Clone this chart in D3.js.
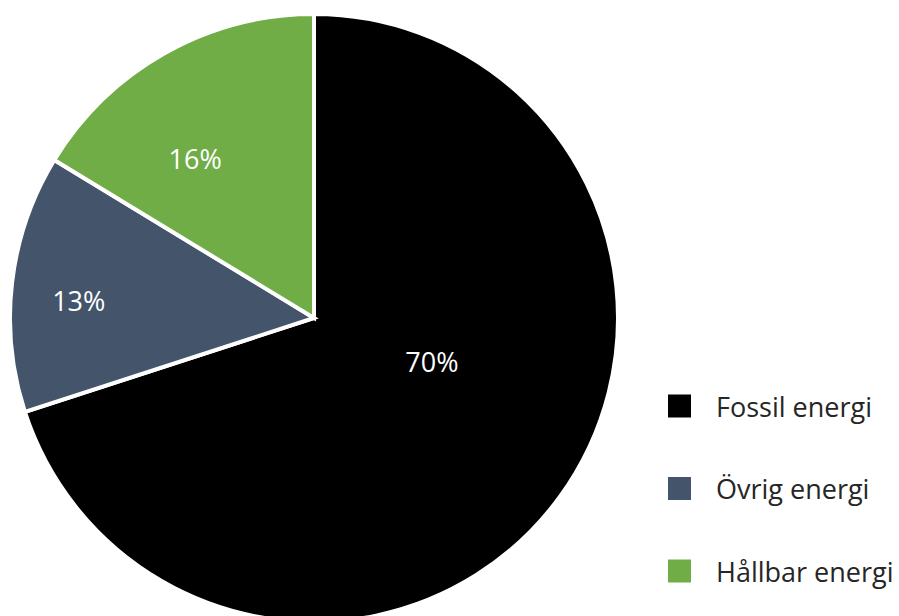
<!DOCTYPE html>
<html><head><meta charset="utf-8">
<script src="https://cdn.jsdelivr.net/npm/d3@7"></script>
<style>html,body{margin:0;padding:0;background:#fff;}svg{display:block;}</style>
</head><body>
<svg id="chart" width="899" height="616"></svg>
<script>
const categories = ["Fossil energi", "Övrig energi", "Hållbar energi"];
const values = [70.0, 13.7, 16.3];
const labels = ["70%", "13%", "16%"];
const colors = ["#000000", "#44546A", "#70AD47"];
// label placement tweaks (angle offset in degrees, radius fraction)
const labelAngleShift = [-15.6, -2.3, -7.3];
const labelRadiusFrac = [0.414, 0.776, 0.655];

const svg = d3.select("#chart");
const cx = 314, cy = 318, R = 304;
const font = "'Open Sans', sans-serif";

const pie = d3.pie().sort(null).value(d => d);
const arcs = pie(values);
const arc = d3.arc().innerRadius(0).outerRadius(R);

const g = svg.append("g").attr("transform", `translate(${cx},${cy})`);
g.selectAll("path").data(arcs).enter().append("path")
  .attr("d", arc)
  .attr("fill", (d, i) => colors[i])
  .attr("stroke", "#fff")
  .attr("stroke-width", 4)
  .attr("stroke-linejoin", "miter");

g.selectAll("text.lbl").data(arcs).enter().append("text")
  .attr("class", "lbl")
  .attr("transform", (d, i) => {
    const a = (d.startAngle + d.endAngle) / 2 + labelAngleShift[i] * Math.PI / 180;
    const r = R * labelRadiusFrac[i];
    return `translate(${r * Math.sin(a)},${-r * Math.cos(a)})`;
  })
  .attr("text-anchor", "middle")
  .attr("dominant-baseline", "central")
  .attr("fill", "#fff")
  .style("font-family", font)
  .style("font-size", "27px")
  .text((d, i) => labels[i]);

const legend = svg.append("g");
const ly = d3.scalePoint().domain(categories).range([406, 571]);
categories.forEach((c, i) => {
  legend.append("rect")
    .attr("x", 668).attr("y", ly(c) - 11.5)
    .attr("width", 23).attr("height", 23)
    .attr("fill", colors[i]);
  legend.append("text")
    .attr("x", 716).attr("y", ly(c))
    .attr("dominant-baseline", "central")
    .attr("fill", "#262626")
    .style("font-family", font)
    .style("font-size", "27px")
    .text(c);
});
</script>
</body></html>
